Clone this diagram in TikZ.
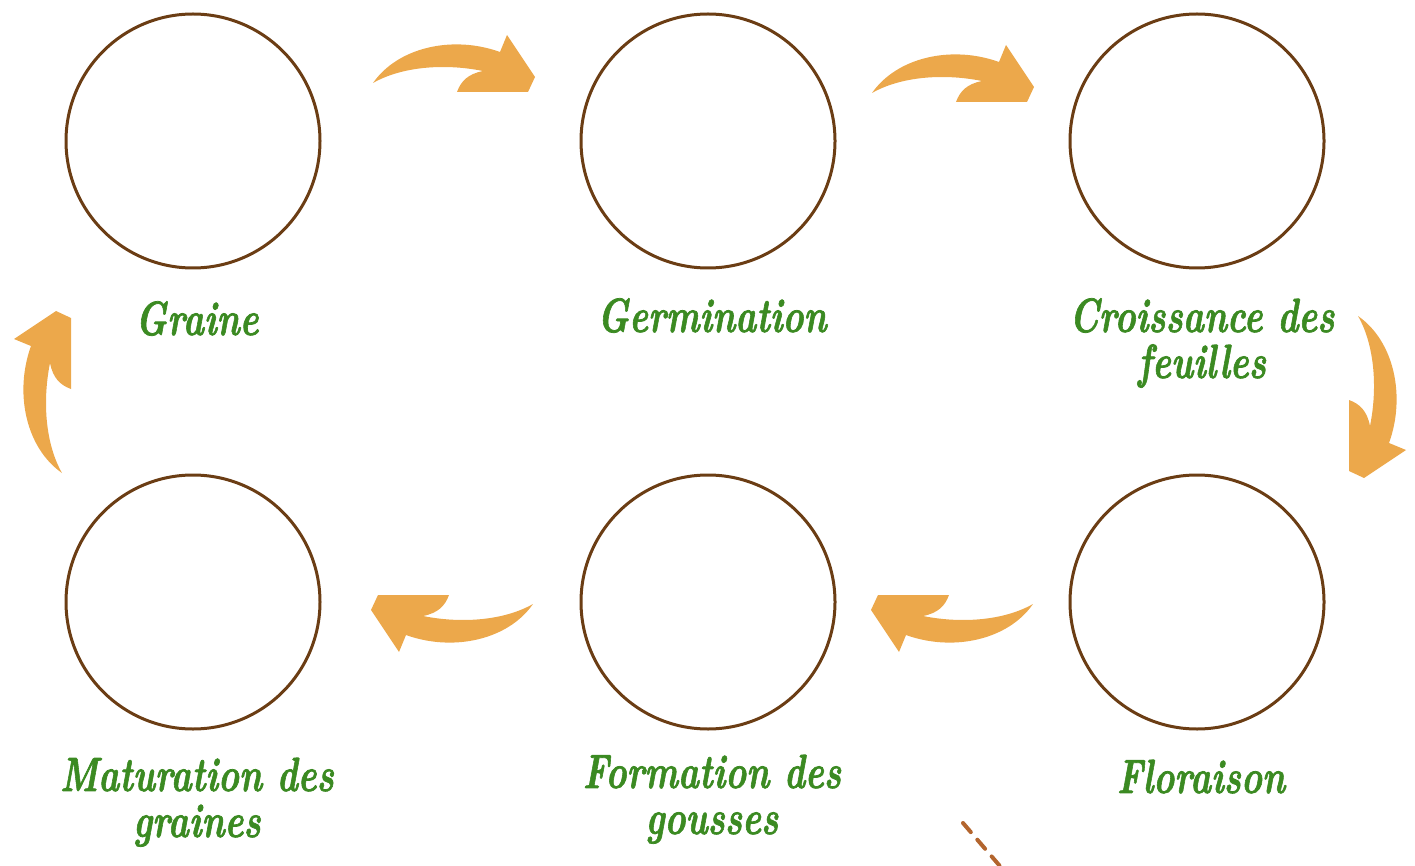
\documentclass[tikz,border=0pt]{standalone}
\usepackage{fontspec}
\usepackage{tikz}
\usetikzlibrary{shapes}
\newfontfamily\stagefont{lmroman10-bolditalic}[Extension=.otf,FakeBold=1.6]
\definecolor{brun}{HTML}{6B3D14}
\definecolor{vert}{HTML}{3B8A22}
\definecolor{ocre}{HTML}{ECA84B}
\definecolor{rouille}{HTML}{B3652E}
\tikzstyle{stage}=[circle,draw=brun,line width=3pt,minimum size=254pt,inner sep=0pt]
\tikzstyle{stagename}=[text=vert,font=\stagefont\fontsize{48}{46}\selectfont,align=center,anchor=base,inner sep=0pt,xscale=0.74,transform shape]
\tikzset{curlarrow/.pic={
    \fill[ocre] (0,0) .. controls (25,-36) and (80,-48) .. (127,-31)
      -- (134,-48) -- (162,-6) -- (155,9) -- (84,9)
      .. controls (88,-2) and (95,-9) .. (110,-12)
      .. controls (70,-20) and (28,-16) .. (0,0) -- cycle;
  }
}

\begin{document}
\begin{tikzpicture}[x=1pt, y=-1pt]
    \useasboundingbox (0,0) rectangle (1415,866);
    % cycle stages
    \node[stage] at (193,141) (graine) {};
    \node[stage] at (708,141) (germ) {};
    \node[stage] at (1197,141) (feuil) {};
    \node[stage] at (1197,602) (flor) {};
    \node[stage] at (708,602) (gous) {};
    \node[stage] at (193,602) (matur) {};
    % stage names (base = last line)
    \node[stagename] at (197,335) (tgraine) {Graine};
    \node[stagename] at (712,332) (tgerm) {Germination};
    \node[stagename] at (1202,378) (tfeuil) {Croissance des\\feuilles};
    \node[stagename] at (1201,793) (tflor) {Floraison};
    \node[stagename] at (712,834) (tgous) {Formation des\\gousses};
    \node[stagename] at (197,837) (tmatur) {Maturation des\\graines};
    % curved arrows
    \pic at (373,83) {curlarrow};
    \pic at (872,93) {curlarrow};
    \pic[rotate=-90] at (1358,316) {curlarrow};
    \pic[rotate=180] at (1033,604) {curlarrow};
    \pic[rotate=180] at (533,604) {curlarrow};
    \pic[rotate=90] at (62,473) {curlarrow};
    \coordinate (d1) at (963,823);
    \coordinate (d2) at (1005,872);
    \draw[rouille,line width=4pt,line cap=round,dash pattern=on 12pt off 10pt] (d1) -- (d2);
  \end{tikzpicture}
\end{document}
